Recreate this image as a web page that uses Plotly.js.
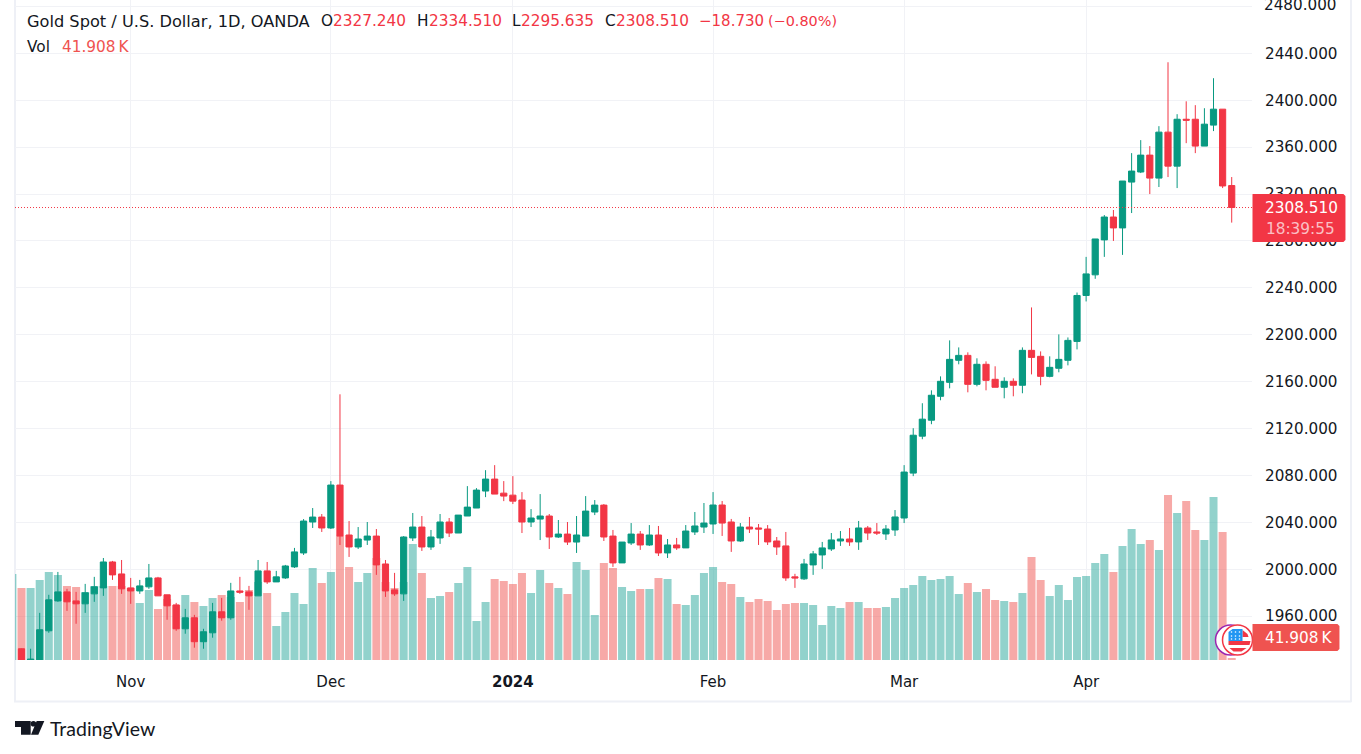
<!DOCTYPE html>
<html>
<head>
<meta charset="utf-8">
<script src="https://cdn.plot.ly/plotly-3.0.1.min.js"></script>
<style>
  html, body { margin: 0; padding: 0; background: #fff; }
</style>
</head>
<body>
<div id="chart" style="width:1361px;height:754px"></div>
<script>
// XAUUSD daily. First bar is mid Oct 2023, last one is the live bar.
var opens = [
  1932.2,1918,1921,1947.5,1973,1980.7,1973,1970.5,1979,1984.1,
  2006.2,1996,1984.1,1981.5,1985,1992.6,1978.2,1969.6,1949.2,1958.6,
  1938.2,1945.8,1963.7,1958.6,1981.5,1980.7,1977.3,1998.6,1989.2,1992.6,
  2002,2013.9,2040.3,2044.5,2035.2,2071.8,2029.2,2019,2024.9,2028.3,
  2004.5,1982.4,1979,2026.7,2036,2019,2026.7,2040.3,2030.9,2045.4,
  2052.2,2066.7,2076.9,2064.9,2063.2,2059,2040.3,2042.8,2045.4,2027.5,
  2030,2023.2,2028.3,2048.8,2054.7,2028.3,2005.4,2022.4,2030,2020.7,
  2029.2,2013.9,2020.7,2018.2,2031.8,2036,2038.6,2054.8,2040.3,2024.1,
  2036,2035.2,2034.3,2024.1,2019.9,1993.5,1991.8,2003.7,2012.2,2017.3,
  2024.1,2025.8,2023.3,2035.2,2031.8,2030.1,2033.5,2043.7,2082,2113.5,
  2127.1,2147.5,2159.4,2178.2,2182.4,2157.7,2174.8,2162,2155.2,2160.3,
  2156.9,2186.7,2181.6,2164.5,2171.4,2178.2,2194.3,2233.5,2251.1,2280.9,
  2300.4,2291.1,2330.2,2338.8,2353.2,2333.6,2372.8,2343.8,2383.8,2383.8,
  2360.9,2378.8,2392.4,2327.24
];
var highs = [
  1932.5,1932.2,1962.8,1978.2,1997.7,1983.3,1980.7,1987.5,1993.5,2009.6,
  2007.1,2007.9,1992.6,1990.9,2004.5,1993.5,1978.2,1971.3,1966.2,1961.1,
  1949.2,1971.3,1975.6,1988.4,1993.5,1985.8,2007.9,2006.2,1998.6,2003.7,
  2018.2,2042.8,2052.2,2047.1,2075.2,2149.2,2041.1,2036,2040.3,2034.3,
  2007.9,1996.9,2028.3,2048,2045.4,2033.5,2047.1,2043.7,2046.2,2070.9,
  2069.2,2084.5,2088.8,2075.2,2079.4,2065.8,2051.3,2064.1,2047.1,2042,
  2040.3,2045.4,2062.4,2059,2055.6,2033.5,2023.2,2039.4,2032.6,2037.7,
  2036.9,2025.8,2026.7,2037.7,2048.8,2056.5,2065.8,2058.2,2042.9,2039.4,
  2044.6,2038.6,2037.7,2027.5,2031.8,1996.1,2008.8,2015.6,2023.3,2030.9,
  2032.6,2035.2,2041.2,2036.9,2039.4,2037.7,2050.5,2088.8,2120.3,2141.6,
  2152.6,2164.5,2195.2,2189.2,2185,2179.9,2177.3,2173.1,2163.7,2162.8,
  2189.2,2223.3,2185.8,2181.6,2200.3,2197.7,2236,2266.4,2281.7,2302.1,
  2306.4,2331.1,2354.9,2366,2360.9,2377.9,2432.4,2388.1,2399.1,2395.8,
  2393.2,2418.8,2392.4,2334.51
];
var lows = [
  1912,1912,1915,1945.8,1972.2,1964.5,1953.5,1962.8,1972.2,1977.3,
  1990.9,1979,1970.5,1979,1983.3,1977.3,1956.9,1947.5,1945,1933.1,
  1932.2,1941.6,1956.1,1956.9,1979,1965.4,1977.3,1987.5,1989.2,1991.8,
  2001.1,2012.2,2035.2,2031.8,2034.3,2020.7,2010.5,2017.3,2020.7,1995.2,
  1976.4,1977.3,1973,2024.1,2015.6,2016.5,2021.6,2027.5,2030.9,2045.4,
  2052.2,2061.5,2064.1,2058.1,2055.6,2030.9,2036,2024.9,2017.3,2026.7,
  2020.7,2013.9,2028.3,2046.2,2024.1,2002,2005.4,2020.7,2016.5,2019.9,
  2011.3,2009.6,2016.5,2018.2,2029.2,2030.9,2030.1,2028.4,2014.8,2023.3,
  2030.9,2020.7,2020.7,2012.2,1990.1,1984.1,1990.9,1995.2,2000.3,2015.6,
  2019.9,2019.9,2016.5,2025,2029.2,2025,2028.4,2039.4,2079.4,2110.9,
  2123.7,2144.1,2154.3,2174.8,2150.9,2156,2152.6,2155.2,2145.8,2147.5,
  2150.1,2166.2,2156.9,2163.7,2168,2173.9,2187.5,2228.4,2247.7,2266.4,
  2280,2268.1,2303.8,2337.9,2320,2326,2334.5,2325.1,2363.4,2354.9,
  2360.9,2373.7,2325.1,2295.635
];
var closes = [
  1918,1923.4,1948.4,1973.9,1980.7,1972.2,1970.5,1979.9,1985,2006.2,
  1995.2,1983.3,1981.5,1985.8,1992.6,1977.3,1968.8,1949.2,1958.6,1938.2,
  1946.7,1963.7,1958.6,1981.5,1980.4,1977.3,1998.6,1989.2,1993.5,2002.8,
  2014.8,2041.1,2044.5,2035.2,2071.8,2028.3,2019,2025.8,2028.3,2003.7,
  1981.5,1979,2027.5,2036,2019,2027.5,2040.3,2030.9,2046.2,2053,
  2067.5,2076.9,2064.1,2062.4,2058.1,2040.3,2043.7,2045.4,2027.5,2030,
  2023.2,2029.2,2049.6,2054.7,2027.5,2005.4,2023.2,2030,2020.7,2029.2,
  2013.9,2020.7,2018.2,2032.6,2036.9,2039.4,2054.8,2039.4,2024.1,2036,
  2034.3,2034.3,2023.3,2019,1992.6,1992.6,2004.5,2013.1,2018.2,2025,
  2025.8,2023.3,2035.2,2030.9,2030.9,2034.3,2044.6,2082.9,2114.3,2128,
  2148.4,2160.3,2179,2182.4,2157.7,2174.8,2161.1,2155.2,2160.3,2156.9,
  2186.7,2180.7,2164.5,2172.2,2179,2195.2,2233.5,2251.9,2281.7,2300.4,
  2291.1,2331.1,2339.6,2353.2,2333.6,2372.8,2343.8,2383.8,2383,2360.9,
  2379.6,2392.4,2326.9,2308.51
];
// volume in K, starts one bar earlier (only a sliver of that bar shows at the left edge)
var volumes = [
  193.1,
  167.9,167.9,182.3,196.7,191.3,171.5,169.7,160.7,171.5,171.5,
  171.5,171.5,167.9,140.9,164.3,130.1,148.1,137.3,155.3,142.7,
  135.5,149.9,155.3,151.7,142.7,164.3,178.7,158.9,99.5,124.7,
  158.9,139.1,203.9,176.9,196.7,261.5,205.7,178.7,194.9,221.9,
  178.7,167.9,178.7,247.1,194.9,149.9,153.5,160.7,176.9,205.7,
  108.5,142.7,184.1,180.5,175.1,194.9,158.9,200.3,176.9,167.9,
  157.1,214.7,200.3,119.3,212.9,203.9,169.7,162.5,166.1,166.1,
  185.9,184.1,139.1,137.3,155.3,194.9,205.7,178.7,175.1,151.7,
  142.7,148.1,144.5,128.3,139.1,140.9,140.9,137.3,101.3,135.5,
  131.9,142.7,142.7,131.9,131.9,133.7,149.9,167.9,173.3,189.5,
  182.3,184.1,189.5,157.1,176.9,160.7,166.1,146.3,144.5,142.7,
  158.9,223.7,182.3,153.5,173.3,146.3,187.7,189.5,212.9,229.1,
  196.7,243.5,274.1,247.1,254.3,236.3,335.3,302.9,324.5,272.3,
  254.3,331.7,268.7,41.908
];
var tickBars = [12, 34, 54, 76, 97, 117];
var tickLabels = ['Nov', 'Dec', '<b>2024</b>', 'Feb', 'Mar', 'Apr'];
var priceTicks = [1960, 2000, 2040, 2080, 2120, 2160, 2200, 2240, 2280, 2320, 2360, 2400, 2440, 2480];
var lastPrice = 2308.51;

var UP = '#089981', DOWN = '#F23645';
var VOL_UP = 'rgba(38,166,154,0.5)', VOL_DOWN = 'rgba(239,83,80,0.5)';
var TXT = '#131722', GRID = '#F1F2F6', BORDER = '#EEF0F6';
var FONT = '"DejaVu Sans", sans-serif';

// plot area in page pixels
var L = 15, R = 1252.5, B = 660;
function px(x) { return (x - L) / (R - L); }
function py(y) { return 1 - y / B; }

var bars = opens.map(function (v, i) { return i; });
var volBars = [-1].concat(bars);
var volColors = volBars.map(function (b) {
  if (b < 0) return VOL_UP;
  return closes[b] >= opens[b] ? VOL_UP : VOL_DOWN;
});

var volumeTrace = {
  type: 'bar', x: volBars, y: volumes, xaxis: 'x', yaxis: 'y',
  marker: { color: volColors, line: { width: 0 } }
};
var candleTrace = {
  type: 'candlestick', x: bars, open: opens, high: highs, low: lows, close: closes,
  xaxis: 'x', yaxis: 'y2', whiskerwidth: 0,
  increasing: { line: { color: UP, width: 1 }, fillcolor: UP },
  decreasing: { line: { color: DOWN, width: 1 }, fillcolor: DOWN }
};

function hline(x0, y0, x1, y1) {
  return { type: 'line', xref: 'paper', yref: 'paper', x0: px(x0), y0: py(y0), x1: px(x1), y1: py(y1),
           line: { color: BORDER, width: 2 }, layer: 'below' };
}
function poly(points, color) {
  var d = points.map(function (p, i) { return (i ? 'L' : 'M') + px(p[0]) + ',' + py(p[1]); }).join(' ') + ' Z';
  return { type: 'path', xref: 'paper', yref: 'paper', path: d, fillcolor: color, line: { width: 0 } };
}
function ring(cx, cy, r, fill, stroke, w) {
  return { type: 'circle', xref: 'paper', yref: 'paper', x0: px(cx - r), x1: px(cx + r), y0: py(cy + r), y1: py(cy - r),
           fillcolor: fill, line: { color: stroke, width: w === undefined ? 1.5 : w } };
}
function labelBox(x0, y0, x1, y1, color) {
  var r = 2;
  return poly([[x0, y0], [x1 - r, y0], [x1, y0 + r], [x1, y1 - r], [x1 - r, y1], [x0, y1]], color);
}

var shapes = [
  hline(15, 0, 15, 702), hline(14, 701.5, 1352, 701.5), hline(1351.5, 0, 1351.5, 702),
  { type: 'line', xref: 'paper', yref: 'y2', x0: 0, x1: 1, y0: lastPrice, y1: lastPrice,
    line: { color: DOWN, width: 1, dash: '1px,2px' } },
  // tradingview mark
  poly([[15, 721], [30.7, 721], [30.7, 734.7], [21, 734.7], [21, 727], [15, 727]], TXT),
  poly([[36.7, 721], [44.3, 721], [38.3, 734.7], [31, 734.7]], TXT),
  ring(33.4, 723.7, 2.8, TXT, TXT, 0),
  // currency badge
  ring(1231, 640, 15, '#fff', '#9C27B0'),
  ring(1238, 640, 15, '#fff', '#F23645'),
  poly([[1243, 630], [1248, 634], [1249, 637], [1243, 637]], '#F23645'),
  poly([[1229, 641], [1251, 641], [1250, 645], [1229, 645]], '#F23645'),
  poly([[1230, 648], [1247, 648], [1242, 651.5], [1234, 651.5]], '#F23645'),
  poly([[1229, 632], [1233, 629], [1243, 629], [1243, 641], [1229, 641]], '#2196F3')
];
// little stars on the flag
[1232, 1236, 1240].forEach(function (dx) {
  [632, 636, 639].forEach(function (dy) { shapes.push(ring(dx, dy, 0.8, '#fff', '#fff', 0)); });
});
shapes.push(labelBox(1253, 194, 1346, 242, DOWN), labelBox(1253, 624, 1340, 651, '#EF5350'));

function note(text, x, y, color, size, anchor) {
  return { xref: 'paper', yref: 'paper', x: px(anchor ? x : x - 2), y: py(y), xanchor: anchor || 'left', yanchor: 'middle',
           text: text, showarrow: false, align: 'left',
           font: { family: FONT, size: size || 15.3, color: color || TXT } };
}

var annotations = [
  note('Gold Spot / U.S. Dollar, 1D, OANDA', 27, 21, TXT, 16.2),
  note('O', 321, 21), note('2327.240', 333, 21, DOWN),
  note('H', 417, 21), note('2334.510', 429, 21, DOWN),
  note('L', 512, 21), note('2295.635', 521, 21, DOWN),
  note('C', 605, 21), note('2308.510', 616, 21, DOWN),
  note('\u221218.730', 699, 21, DOWN, 15), note('(\u22120.80%)', 768, 21, DOWN, 14.4),
  note('Vol', 27, 47), note('41.908\u2009K', 62, 47, '#EF5350'),
  // the axis drops its top label because it runs off the page, so it is written by hand
  note('2480.000', 1265, 5.5, TXT, 15.2),
  note('2308.510', 1302, 207.5, '#fff', 15.3, 'center'),
  note('18:39:55', 1301, 229, 'rgba(255,255,255,0.7)', 15.3, 'center'),
  note('41.908\u2009K', 1300, 638, '#fff', 15.3, 'center'),
  { xref: 'paper', yref: 'paper', x: px(48), y: py(728.5), xanchor: 'left', yanchor: 'middle',
    text: 'TradingView', showarrow: false, font: { family: 'Lato, sans-serif', size: 19.5, color: TXT } }
];

var layout = {
  width: 1361, height: 754,
  margin: { l: L, r: 1361 - R, t: 0, b: 754 - B, pad: 0 },
  paper_bgcolor: '#fff', plot_bgcolor: '#fff',
  showlegend: false, bargap: 0.12, boxgap: 0.32, boxgroupgap: 0,
  font: { family: FONT, color: TXT, size: 15 },
  xaxis: {
    range: [-0.714, 135.23], rangeslider: { visible: false }, tickmode: 'array',
    tickvals: tickBars, ticktext: tickLabels, showgrid: true, gridcolor: GRID, gridwidth: 1,
    zeroline: false, showline: false, ticks: '', ticklabelstandoff: 11, tickangle: 0,
    tickfont: { family: FONT, size: 15, color: TXT }
  },
  // volume scale: last bar is the smallest and sits right on the floor
  yaxis: { range: [38.3, 1226.3], visible: false, fixedrange: true },
  yaxis2: {
    range: [1922.6, 2485.5], overlaying: 'y', side: 'right', anchor: 'x', tickmode: 'array',
    tickvals: priceTicks, tickformat: '.3f', showgrid: true, gridcolor: GRID, gridwidth: 1,
    zeroline: false, showline: false, ticks: '', ticklabelstandoff: 12,
    tickfont: { family: FONT, size: 15.2, color: TXT }
  },
  shapes: shapes,
  annotations: annotations
};

Plotly.newPlot('chart', [volumeTrace, candleTrace], layout, { staticPlot: true });
</script>
</body>
</html>
